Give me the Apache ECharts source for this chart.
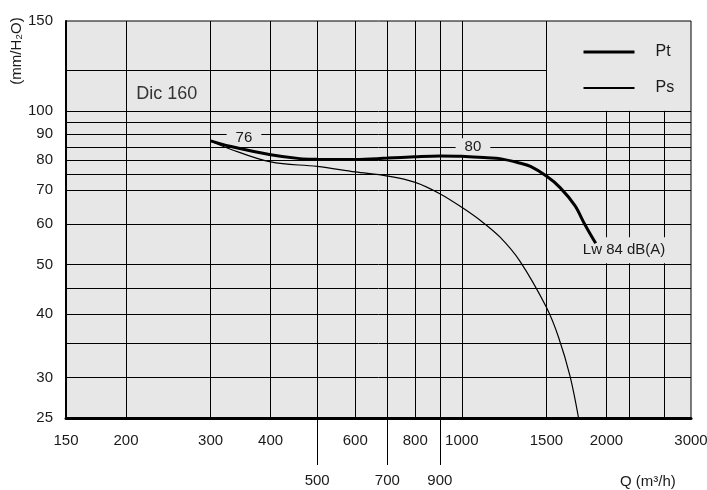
<!DOCTYPE html>
<html>
<head>
<meta charset="utf-8">
<script src="https://cdn.jsdelivr.net/npm/echarts@6/dist/echarts.min.js"></script>
<style>html,body{margin:0;padding:0;background:#fff}#c{width:707px;height:490px}</style>
</head>
<body>
<div id="c"></div>
<script>
// ---- data ----
const ptQ = [300, 329, 400, 460, 500, 600, 700, 800, 900, 1000, 1130, 1200, 1320, 1390, 1500, 1600, 1720, 1800, 1900];
const ptP = [87.3, 85.2, 82.0, 80.6, 80.4, 80.3, 80.8, 81.3, 81.6, 81.5, 80.9, 80.6, 79.0, 77.8, 74.5, 70.8, 65.2, 60.1, 55.0];
const psQ = [300, 329, 400, 500, 600, 700, 800, 900, 1000, 1100, 1200, 1320, 1500, 1590, 1680, 1750];
const psP = [87.3, 84.2, 79.4, 77.8, 75.9, 74.5, 72.4, 68.8, 64.7, 60.7, 56.6, 50.8, 41.2, 36.0, 30.2, 25];

const xTickLabelsTop = [150, 200, 300, 400, 600, 800, 1000, 1500, 2000, 3000];
const xTickLabelsBottom = [500, 700, 900];
const yTickLabels = [150, 100, 90, 80, 70, 60, 50, 40, 30, 25];

const xGridFull = [200, 300, 400, 500, 600, 700, 800, 900, 1000, 1500];
const xGridLower = [2000, 2230, 2640];   // drawn from 25 up to 100
const yGridFull = [100, 95, 90, 85, 80, 75, 70, 60, 50, 45, 40, 35, 30];
const yGridLeft = [120];                 // drawn from 150 to 1500

const seriesNames = ['Pt', 'Ps'];
const modelName = 'Dic 160';
const curveNotes = ['76', '80', 'Lw 84 dB(A)'];

// ---- layout / style ----
const FONT_N = "'Liberation Sans Narrow', 'Arial Narrow', 'Liberation Sans', sans-serif";
const FONT = "'Liberation Sans', Arial, sans-serif";
const BG = '#e6e7e6';
const X_MIN = 150, X_MAX = 3000, Y_MIN = 25, Y_MAX = 150;

const notePos = [[352, 88.5], [1055, 85], [2177, 53.3]];
const modelPos = [243, 108];

const chart = echarts.init(document.getElementById('c'), null, {renderer: 'canvas'});

const gridLineData = [];
xGridFull.forEach(v => gridLineData.push({xAxis: v}));
xGridLower.forEach(v => gridLineData.push([{coord: [v, Y_MIN]}, {coord: [v, 100]}]));
yGridFull.forEach(v => gridLineData.push({yAxis: v}));
yGridLeft.forEach(v => gridLineData.push([{coord: [X_MIN, v]}, {coord: [1500, v]}]));

const tickLabelData = [];
xTickLabelsTop.forEach(v => tickLabelData.push({
  xAxis: v,
  label: {formatter: String(v), position: 'start', distance: 15}
}));
yTickLabels.forEach(v => tickLabelData.push({
  yAxis: v,
  label: {formatter: String(v), position: 'start', distance: 13}
}));

const noteData = curveNotes.map((t, i) => ({
  name: t,
  coord: notePos[i],
  label: {
    backgroundColor: BG,
    padding: i === 2 ? [6, 5, 5, 5] : [1, 9, 1, 9]
  }
}));
noteData.push({
  name: modelName,
  coord: modelPos,
  label: {fontFamily: FONT, fontSize: 18, color: '#333'}
});

const option = {
  animation: false,
  backgroundColor: '#fff',
  grid: [
    {left: 66, right: 16, top: 21, bottom: 72, show: true, backgroundColor: BG, borderColor: '#000', borderWidth: 1},
    {left: 66, right: 16, top: 418, height: 47, show: false}
  ],
  xAxis: [
    {type: 'log', logBase: 10, min: X_MIN, max: X_MAX, gridIndex: 0,
     axisLine: {show: true, onZero: false, lineStyle: {color: '#000', width: 3}},
     axisTick: {show: false}, axisLabel: {show: false}, splitLine: {show: false}},
    {type: 'log', logBase: 10, min: X_MIN, max: X_MAX, gridIndex: 1, show: false}
  ],
  yAxis: [
    {type: 'log', logBase: 10, min: Y_MIN, max: Y_MAX, gridIndex: 0,
     axisLine: {show: true, onZero: false, lineStyle: {color: '#000', width: 2}},
     axisTick: {show: false}, axisLabel: {show: false}, splitLine: {show: false}},
    {type: 'value', min: 0, max: 1, gridIndex: 1, show: false}
  ],
  legend: {
    left: 577, top: 39, orient: 'vertical',
    itemWidth: 51, itemHeight: 14, itemGap: 20,
    itemStyle: {opacity: 0},
    data: [
      {name: 'Pt', lineStyle: {width: 3}},
      {name: 'Ps', lineStyle: {width: 2}}
    ],
    textStyle: {fontFamily: FONT_N, fontSize: 16, color: '#1a1a1a', padding: [0, 0, 0, 16]},
    selectedMode: false
  },
  title: {
    text: 'Q (m³/h)', left: 615, top: 469,
    textStyle: {fontFamily: FONT_N, fontSize: 15, fontWeight: 'normal', color: '#1a1a1a'}
  },
  graphic: [{
    type: 'text', x: 17, y: 51, rotation: Math.PI / 2,
    style: {text: '(mm/H₂O)', font: "15px 'Liberation Sans Narrow', 'Liberation Sans', sans-serif",
            fill: '#1a1a1a', align: 'center', verticalAlign: 'middle'}
  }],
  series: [
    { // grid lines
      type: 'line', xAxisIndex: 0, yAxisIndex: 0, data: [], z: 1, silent: true, clip: false,
      markLine: {
        silent: true, symbol: ['none', 'none'], animation: false,
        lineStyle: {color: '#000', width: 1, type: 'solid'},
        label: {show: false},
        data: gridLineData
      }
    },
    { // tick labels
      type: 'line', xAxisIndex: 0, yAxisIndex: 0, data: [], z: 1, silent: true, clip: false,
      markLine: {
        silent: true, symbol: ['none', 'none'], animation: false,
        lineStyle: {color: 'rgba(0,0,0,0)', width: 1},
        label: {show: true, color: '#1a1a1a', fontFamily: FONT_N, fontSize: 15},
        emphasis: {disabled: true},
        data: tickLabelData
      }
    },
    { // lower tick extensions 500/700/900
      type: 'line', xAxisIndex: 1, yAxisIndex: 1, data: [], z: 1, silent: true, clip: false,
      markLine: {
        silent: true, symbol: ['none', 'none'], animation: false,
        lineStyle: {color: '#000', width: 1, type: 'solid'},
        label: {show: true, position: 'start', distance: 8, color: '#1a1a1a', fontFamily: FONT_N, fontSize: 15},
        data: xTickLabelsBottom.map(v => ({xAxis: v, label: {formatter: String(v)}}))
      }
    },
    { // annotations
      type: 'line', xAxisIndex: 0, yAxisIndex: 0, data: [], z: 2, silent: true, clip: false,
      markPoint: {
        silent: true, symbol: 'circle', symbolSize: 0, animation: false,
        label: {show: true, position: 'inside', formatter: '{b}', color: '#1a1a1a', fontFamily: FONT_N, fontSize: 15},
        data: noteData
      }
    },
    {
      name: seriesNames[0], type: 'line', z: 5, smooth: 0.35, symbol: 'none',
      lineStyle: {color: '#000', width: 3},
      itemStyle: {color: '#000'},
      data: ptQ.map((q, i) => [q, ptP[i]])
    },
    {
      name: seriesNames[1], type: 'line', z: 5, smooth: 0.35, symbol: 'none',
      lineStyle: {color: '#000', width: 1.2},
      itemStyle: {color: '#000'},
      data: psQ.map((q, i) => [q, psP[i]])
    }
  ]
};
chart.setOption(option);
</script>
</body>
</html>
